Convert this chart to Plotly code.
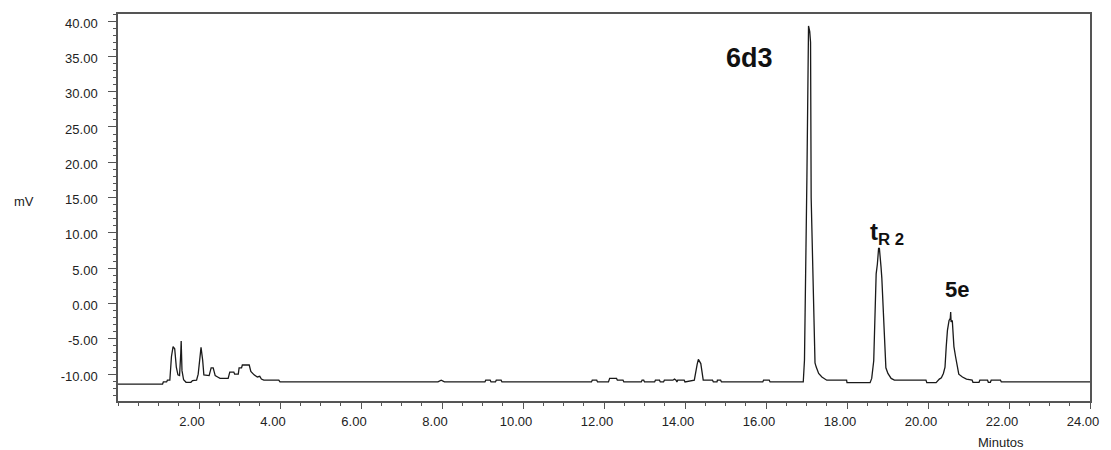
import plotly.graph_objects as go

# Chromatogram trace (time in minutes, signal in mV)
time_min = [
    0.00, 1.10, 1.12, 1.20, 1.22, 1.28, 1.32, 1.36, 1.40, 1.44, 1.48, 1.52, 1.55, 1.56, 1.58, 1.62, 1.68,
    1.80, 1.84, 1.94, 1.98, 2.03, 2.05, 2.09, 2.12, 2.25, 2.30, 2.35, 2.40, 2.46, 2.52, 2.72, 2.76, 2.86,
    2.88, 2.97, 2.99, 3.05, 3.07, 3.24, 3.28, 3.36, 3.44, 3.50, 3.54, 3.60, 3.97, 4.00,
    7.90, 7.98, 8.06,
    9.06, 9.08, 9.19, 9.21, 9.32, 9.34, 9.46, 9.48,
    11.69, 11.71, 11.82, 11.84,
    12.11, 12.14, 12.31, 12.33, 12.47, 12.49,
    12.92, 12.94, 12.98, 13.00,
    13.25, 13.27, 13.37, 13.39, 13.47, 13.49, 13.70, 13.72, 13.74, 13.78, 13.80, 13.82, 13.98, 14.00,
    14.23, 14.30, 14.33, 14.39, 14.43, 14.45, 14.68, 14.70, 14.79, 14.80, 14.88, 14.90,
    15.92, 15.94, 16.08, 16.10,
    16.92, 16.95, 17.01, 17.05, 17.08, 17.10, 17.115, 17.14, 17.17, 17.21, 17.24, 17.30, 17.38, 17.50,
    17.99, 18.00, 18.57, 18.61, 18.66, 18.70, 18.72, 18.75, 18.78, 18.80, 18.82, 18.84, 18.86, 18.90,
    18.93, 18.96, 19.01, 19.09, 19.17, 19.95, 19.97, 20.20, 20.28, 20.33, 20.38, 20.42, 20.45, 20.48,
    20.52, 20.55, 20.56, 20.57, 20.60, 20.64, 20.68, 20.72, 20.76, 20.85, 20.95, 21.09, 21.11, 21.26,
    21.28, 21.47, 21.49, 21.54, 21.56, 21.79, 21.81, 24.00,
]
signal_mv = [
    -11.40, -11.40, -11.10, -11.10, -10.85, -10.85, -7.50, -6.10, -6.40, -9.00, -10.10, -10.20, -7.00, -5.30, -9.50, -10.80, -11.15,
    -11.15, -10.90, -10.85, -10.00, -7.50, -6.20, -8.00, -10.10, -10.20, -9.10, -9.10, -10.20, -10.40, -10.60, -10.60, -9.70, -9.70,
    -10.00, -10.00, -9.10, -9.10, -8.70, -8.70, -9.60, -10.10, -10.40, -10.30, -10.70, -10.85, -10.85, -11.10,
    -11.10, -10.85, -11.10,
    -11.10, -10.85, -10.85, -11.10, -11.10, -10.85, -10.85, -11.10,
    -11.10, -10.85, -10.85, -11.10,
    -11.10, -10.60, -10.60, -10.85, -10.85, -11.10,
    -11.10, -10.85, -10.85, -11.10,
    -11.10, -10.85, -10.85, -11.10, -11.10, -10.85, -10.85, -10.70, -10.70, -10.85, -11.10, -10.85, -10.85, -11.10,
    -10.85, -8.60, -7.90, -8.50, -10.75, -10.85, -10.85, -11.10, -11.10, -10.85, -10.85, -11.10,
    -11.10, -10.85, -10.85, -11.10,
    -11.10, -8.00, 17.90, 39.30, 38.50, 37.00, 15.00, 9.00, 0.50, -8.40, -9.00, -9.90, -10.40, -10.85,
    -10.85, -11.20, -11.20, -10.60, -8.10, 1.50, 4.20, 5.60, 7.80, 7.80, 5.60, 5.20, 3.60, -1.00,
    -5.70, -9.10, -9.90, -10.60, -10.85, -10.85, -11.20, -11.20, -10.70, -10.50, -9.90, -9.00, -6.10, -3.80,
    -2.40, -2.10, -1.20, -2.60, -2.40, -6.10, -7.50, -8.70, -10.00, -10.40, -10.70, -10.85, -11.15, -11.15,
    -10.85, -10.85, -11.15, -11.15, -10.85, -10.85, -11.10, -11.10,
]

x_tick_vals = [2, 4, 6, 8, 10, 12, 14, 16, 18, 20, 22, 24]
x_tick_text = ["2.00", "4.00", "6.00", "8.00", "10.00", "12.00", "14.00", "16.00",
               "18.00", "20.00", "22.00", "24.00"]
y_tick_vals = [-10, -5, 0, 5, 10, 15, 20, 25, 30, 35, 40]
y_tick_text = ["-10.00", "-5.00", "0.00", "5.00", "10.00", "15.00", "20.00", "25.00",
               "30.00", "35.00", "40.00"]

peak_labels = ["6d3", "t<sub>R 2</sub>", "5e"]
peak_label_x = [15.59, 18.98, 20.72]
peak_label_y = [34.7, 9.9, 2.0]
peak_label_size = [27, 24, 22]

FONT = "Liberation Sans, Arial, sans-serif"
FRAME = "#555555"

# plot-area pixel box (for placing the axis titles)
L, R, T, B = 118, 1097, 13, 401

fig = go.Figure()
fig.add_trace(go.Scatter(
    x=time_min, y=signal_mv, mode="lines",
    line=dict(color="#1a1a1a", width=1.3),
    showlegend=False, hoverinfo="skip",
))

for txt, lx, ly, sz in zip(peak_labels, peak_label_x, peak_label_y, peak_label_size):
    fig.add_annotation(x=lx, y=ly, xref="x", yref="y", text="<b>" + txt + "</b>",
                       xanchor="center", yanchor="middle",
                       showarrow=False, font=dict(family=FONT, size=sz, color="#111111"))

fig.add_annotation(x=(23 - L) / (R - L), y=(B - 201) / (B - T), xref="paper", yref="paper",
                   text="mV", showarrow=False, xanchor="center", yanchor="middle",
                   font=dict(family=FONT, size=13, color="#222222"))
fig.add_annotation(x=(1007 - L) / (R - L), y=-(443 - B) / (B - T), xref="paper", yref="paper",
                   text="Minutos", showarrow=False, xanchor="center", yanchor="middle",
                   font=dict(family=FONT, size=13, color="#222222"))

fig.update_layout(
    width=1111, height=450,
    margin=dict(l=L, r=1111 - R, t=T, b=450 - B),
    paper_bgcolor="white", plot_bgcolor="white",
    font=dict(family=FONT, size=13, color="#222222"),
    xaxis=dict(
        range=[0, 24], tickvals=x_tick_vals, ticktext=x_tick_text,
        showgrid=False, zeroline=False,
        showline=True, mirror=True, linecolor=FRAME, linewidth=1.5,
        ticks="outside", ticklen=6, tickcolor=FRAME, tickwidth=1,
        ticklabelshift=-7, ticklabelstandoff=2,
        tickfont=dict(family=FONT, size=13, color="#222222"),
        minor=dict(dtick=0.5, tick0=0, ticks="outside", ticklen=3, tickcolor=FRAME, tickwidth=1, showgrid=False),
    ),
    yaxis=dict(
        range=[-13.8, 41], tickvals=y_tick_vals, ticktext=y_tick_text,
        showgrid=False, zeroline=False,
        showline=True, mirror=True, linecolor=FRAME, linewidth=1.5,
        ticks="outside", ticklen=8, tickcolor=FRAME, tickwidth=1,
        ticklabelstandoff=8, ticklabelshift=2,
        tickfont=dict(family=FONT, size=13, color="#222222"),
        minor=dict(dtick=1, tick0=0, ticks="outside", ticklen=3, tickcolor=FRAME, tickwidth=1, showgrid=False),
    ),
)

fig.write_html("out.html")
